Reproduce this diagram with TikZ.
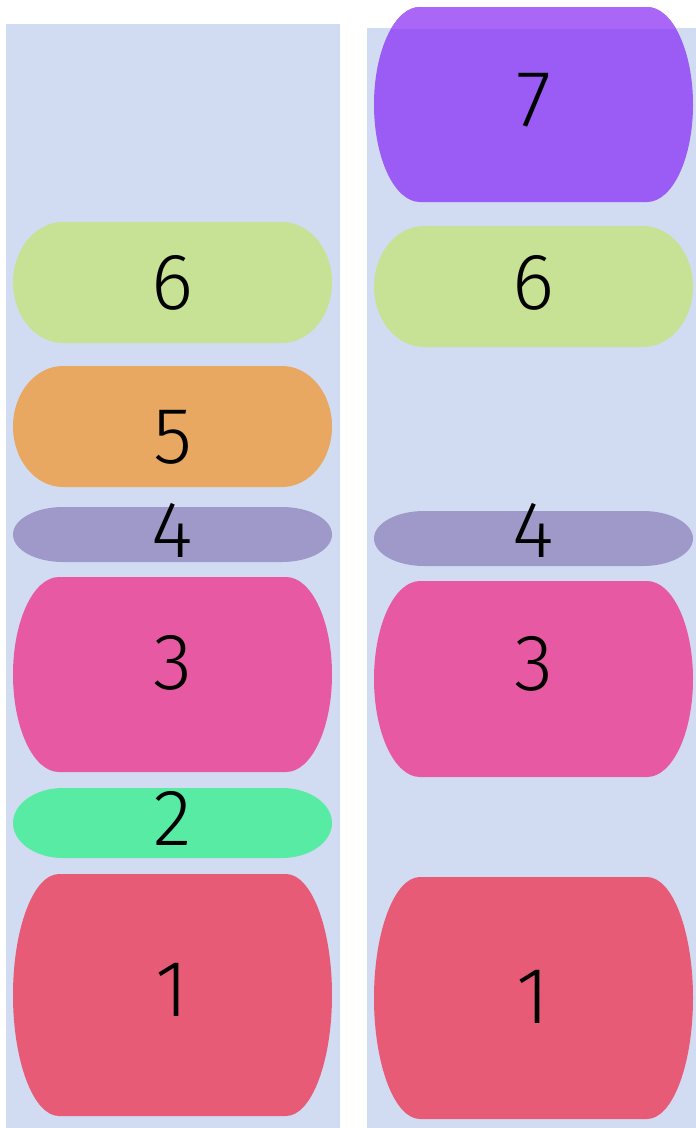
\documentclass[tikz,border=0pt]{standalone}
\usepackage{fontspec}
\setmainfont{Fira Sans}[UprightFont={* Light}]
\definecolor{panelc}{HTML}{D1DCF3}
\definecolor{c7}{HTML}{9A5CF5}
\definecolor{c7top}{HTML}{A966F7}
\definecolor{c6}{HTML}{C7E294}
\definecolor{c5}{HTML}{E8A862}
\definecolor{c4}{HTML}{9F99CA}
\definecolor{c3}{HTML}{E75AA3}
\definecolor{c2}{HTML}{58EBA3}
\definecolor{c1}{HTML}{E75B76}
\tikzset{
  lbl/.style={inner sep=0pt, font=\fontsize{80}{80}\selectfont, text=black},
}
% #1 x1, #2 top, #3 x2, #4 bottom, #5 rx, #6 fill options
\newcommand\pillshape[6]{%
  \fill[#6] ({#1+#5},-#2) -- ({#3-#5},-#2)
    arc[start angle=90, end angle=-90, x radius=#5, y radius={(#4-#2)/2}]
    -- ({#1+#5},-#4)
    arc[start angle=270, end angle=90, x radius=#5, y radius={(#4-#2)/2}]
    -- cycle;}
\begin{document}
\begin{tikzpicture}[x=1pt,y=1pt]
\useasboundingbox (0,0) rectangle (696,-1128);
\fill[white] (0,0) rectangle (696,-1128);
% panels
\fill[panelc] (6,-24) rectangle (340,-1128);
\fill[panelc] (367,-28) rectangle (696,-1128);
% left column
\pillshape{13}{222}{332}{343}{50}{c6}
\pillshape{13}{366}{332}{487}{50}{c5}
\pillshape{13}{507}{332}{562}{50}{c4}
\pillshape{13}{577}{332}{772}{46}{c3}
\pillshape{13}{788}{332}{858}{50}{c2}
\pillshape{13}{874}{332}{1116}{46}{c1}
% right column
\pillshape{374}{7}{693}{202}{46}{c7}
\begin{scope}
  \clip (360,0) rectangle (696,-28);
  \pillshape{374}{7}{693}{202}{46}{c7top}
\end{scope}
\pillshape{374}{226}{693}{347}{50}{c6}
\pillshape{374}{511}{693}{566}{50}{c4}
\pillshape{374}{581}{693}{777}{46}{c3}
\pillshape{374}{877}{693}{1119}{46}{c1}
% labels
\node[lbl] (L6) at (172.5,-282.5) {6};
\node[lbl] (L5) at (172.5,-437.5) {5};
\node[lbl] (L4) at (172.5,-530.5) {4};
\node[lbl] (L3) at (172.5,-662.5) {3};
\node[lbl] (L2) at (172.5,-818) {2};
\node[lbl] (L1) at (172.5,-990) {1};
\node[lbl] (R7) at (533.5,-100) {7};
\node[lbl] (R6) at (533.5,-282.5) {6};
\node[lbl] (R4) at (533.5,-530.5) {4};
\node[lbl] (R3) at (533.5,-663.5) {3};
\node[lbl] (R1) at (533.5,-996.5) {1};
\end{tikzpicture}
\end{document}
